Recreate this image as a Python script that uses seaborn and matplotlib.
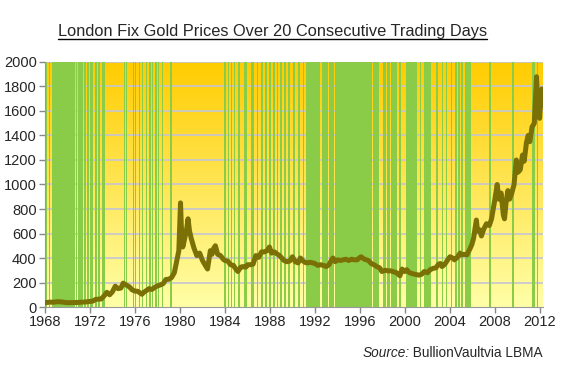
import numpy as np
import matplotlib
matplotlib.use('Agg')
import matplotlib.pyplot as plt
from matplotlib.colors import LinearSegmentedColormap
from matplotlib.lines import Line2D
import seaborn as sns

# London PM fix (decimal year, USD/oz)
dates = [1968.00, 1968.25, 1968.50, 1968.75, 1969.00, 1969.25, 1969.50, 1969.75,
         1970.00, 1970.25, 1970.50, 1970.75, 1971.00, 1971.25, 1971.50, 1971.75,
         1972.00, 1972.25, 1972.50, 1972.75, 1973.00, 1973.25, 1973.50, 1973.75,
         1974.00, 1974.25, 1974.50, 1974.75, 1974.95, 1975.25, 1975.50, 1975.75,
         1976.00, 1976.25, 1976.50, 1976.62, 1976.75, 1977.00, 1977.25, 1977.50,
         1977.75, 1978.00, 1978.25, 1978.50, 1978.75, 1979.00, 1979.25, 1979.50,
         1979.75, 1979.90, 1980.05, 1980.12, 1980.25, 1980.40, 1980.60, 1980.72,
         1980.85, 1981.00, 1981.25, 1981.50, 1981.75, 1982.00, 1982.25, 1982.45,
         1982.70, 1982.85, 1983.00, 1983.15, 1983.35, 1983.60, 1983.85, 1984.00,
         1984.25, 1984.50, 1984.75, 1985.00, 1985.15, 1985.40, 1985.60, 1985.85,
         1986.00, 1986.25, 1986.50, 1986.75, 1987.00, 1987.25, 1987.50, 1987.75,
         1987.95, 1988.15, 1988.40, 1988.60, 1988.85, 1989.00, 1989.25, 1989.50,
         1989.75, 1990.00, 1990.25, 1990.50, 1990.70, 1990.90, 1991.10, 1991.30,
         1991.55, 1991.80, 1992.00, 1992.25, 1992.50, 1992.75, 1993.00, 1993.25,
         1993.45, 1993.60, 1993.80, 1994.00, 1994.25, 1994.50, 1994.75, 1995.00,
         1995.25, 1995.50, 1995.75, 1996.00, 1996.10, 1996.40, 1996.75, 1997.00,
         1997.25, 1997.50, 1997.75, 1997.95, 1998.25, 1998.50, 1998.75, 1999.00,
         1999.25, 1999.55, 1999.75, 1999.85, 2000.00, 2000.15, 2000.40, 2000.75,
         2001.00, 2001.25, 2001.50, 2001.72, 2002.00, 2002.25, 2002.50, 2002.75,
         2003.00, 2003.15, 2003.30, 2003.55, 2003.80, 2004.00, 2004.25, 2004.40,
         2004.65, 2004.90, 2005.00, 2005.25, 2005.50, 2005.75, 2005.95, 2006.10,
         2006.35, 2006.45, 2006.65, 2006.80, 2007.00, 2007.25, 2007.50, 2007.70,
         2007.85, 2008.00, 2008.20, 2008.35, 2008.55, 2008.75, 2008.85, 2009.00,
         2009.15, 2009.30, 2009.50, 2009.70, 2009.90, 2010.05, 2010.25, 2010.45,
         2010.60, 2010.80, 2010.95, 2011.10, 2011.30, 2011.50, 2011.65, 2011.70,
         2011.80, 2011.90, 2011.97, 2012.10, 2012.17, 2012.25]
prices = [35, 38, 40, 39, 42, 43, 41, 38,
          35, 35.5, 35.5, 37, 37.5, 39, 41, 42.5,
          46, 48, 62, 64, 66, 90, 120, 100,
          125, 170, 150, 155, 195, 178, 165, 140,
          130, 128, 112, 104, 118, 133, 150, 143,
          160, 172, 180, 190, 225, 226, 240, 280,
          390, 460, 850, 660, 490, 550, 640, 720,
          620, 560, 480, 420, 440, 380, 340, 310,
          460, 430, 480, 500, 430, 420, 390, 380,
          375, 345, 340, 305, 290, 325, 330, 325,
          345, 345, 350, 420, 405, 450, 450, 460,
          490, 440, 450, 435, 420, 405, 380, 370,
          375, 410, 370, 360, 400, 380, 365, 360,
          365, 360, 355, 340, 345, 340, 330, 345,
          380, 400, 370, 385, 380, 385, 390, 380,
          390, 385, 385, 405, 410, 390, 380, 355,
          345, 330, 320, 290, 300, 295, 295, 287,
          280, 255, 310, 295, 290, 305, 280, 270,
          265, 260, 268, 290, 280, 305, 315, 320,
          350, 355, 330, 350, 385, 410, 400, 385,
          405, 440, 425, 430, 425, 470, 510, 560,
          710, 620, 630, 580, 635, 680, 665, 720,
          800, 880, 1000, 880, 930, 750, 720, 860,
          950, 880, 930, 1000, 1200, 1100, 1120, 1240,
          1190, 1340, 1400, 1350, 1470, 1500, 1780, 1880,
          1650, 1720, 1540, 1740, 1780, 1650]

# green shaded periods (decimal years)
band_starts = [1968.06, 1968.36, 1968.60, 1970.76, 1970.96, 1971.47, 1971.76, 1972.00,
               1972.44, 1972.71, 1973.04, 1975.02, 1975.24, 1975.44, 1975.62, 1975.82,
               1976.00, 1976.15, 1976.38, 1976.60, 1976.95, 1977.24, 1977.54, 1977.78,
               1978.04, 1978.43, 1979.11, 1983.94, 1984.24, 1984.51, 1984.80, 1985.18,
               1985.69, 1986.28, 1986.82, 1987.20, 1987.58, 1987.94, 1988.29, 1988.60,
               1988.89, 1989.24, 1989.63, 1990.07, 1990.52, 1990.91, 1991.20, 1992.60,
               1993.27, 1993.78, 1997.18, 1998.02, 1998.43, 1998.76, 1999.47, 2000.06,
               2001.31, 2001.69, 2002.73, 2003.26, 2003.64, 2004.06, 2004.44, 2004.71,
               2005.00, 2005.31, 2005.54, 2007.47, 2009.54, 2011.32, 2011.71]
band_ends = [1968.15, 1968.47, 1970.67, 1970.87, 1971.40, 1971.64, 1971.88, 1972.29,
             1972.60, 1972.89, 1973.33, 1975.08, 1975.33, 1975.51, 1975.69, 1975.91,
             1976.09, 1976.22, 1976.44, 1976.67, 1977.09, 1977.40, 1977.63, 1977.96,
             1978.13, 1978.52, 1979.29, 1984.06, 1984.36, 1984.62, 1984.92, 1985.33,
             1985.93, 1986.58, 1986.96, 1987.35, 1987.76, 1988.06, 1988.44, 1988.74,
             1989.04, 1989.42, 1989.78, 1990.22, 1990.67, 1991.02, 1992.44, 1993.18,
             1993.69, 1997.04, 1997.69, 1998.28, 1998.64, 1999.26, 1999.67, 2001.04,
             2001.45, 2002.34, 2002.91, 2003.40, 2003.76, 2004.18, 2004.60, 2004.89,
             2005.16, 2005.49, 2005.84, 2007.67, 2009.69, 2011.53, 2011.85]

year_ticks = list(range(1968, 2013, 4))
price_ticks = list(range(0, 2001, 200))

sns.set_style('white')
plt.rcParams['font.family'] = ['Liberation Sans', 'DejaVu Sans']

fig = plt.figure(figsize=(5.65, 3.69), dpi=100)
ax = fig.add_axes([0.0796, 0.168, 0.8814, 0.664])

x_max = 2012.27
# gradient background, gold at the top fading to pale yellow
grad = np.linspace(0, 1, 256).reshape(-1, 1)
cmap = LinearSegmentedColormap.from_list('gold', ['#FFFFA8', '#FFCC00'])
ax.imshow(grad, cmap=cmap, aspect='auto', origin='lower',
          extent=[1968, x_max, 0, 2000], zorder=0)

ax.hlines(price_ticks[1:], 1968, x_max, color='#C4C4D4', lw=1.2, zorder=1)

for s, e in zip(band_starts, band_ends):
    ax.axvspan(s, e, color='#8ACC48', lw=0, zorder=2)

sns.lineplot(x=dates, y=prices, color='#7A7006', lw=3.6, ax=ax, zorder=3)

ax.set_xlim(1968, x_max)
ax.set_ylim(0, 2000)
ax.set_xticks(year_ticks)
ax.set_yticks(price_ticks)
ax.set_xlabel('')
ax.set_ylabel('')
ax.tick_params(axis='both', direction='out', length=4, width=1, color='#888888',
               labelsize=10.5, bottom=True, left=True, pad=2)
for side in ['top', 'right']:
    ax.spines[side].set_visible(False)
for side in ['left', 'bottom']:
    ax.spines[side].set_color('#999999')

title = fig.text(0.483, 0.902, 'London Fix Gold Prices Over 20 Consecutive Trading Days',
                 ha='center', va='baseline', fontsize=11.8)
src = fig.text(0.961, 0.0325, ' BullionVaultvia LBMA', ha='right', va='baseline', fontsize=9.8)

fig.canvas.draw()
r = fig.canvas.get_renderer()
tb = title.get_window_extent(r).transformed(fig.transFigure.inverted())
fig.add_artist(Line2D([tb.x0, tb.x1], [0.893, 0.893], color='black', lw=1))
sb = src.get_window_extent(r).transformed(fig.transFigure.inverted())
fig.text(sb.x0, 0.0325, 'Source:', ha='right', va='baseline', fontsize=9.8, style='italic')

plt.savefig('out.png', dpi=100)
plt.close()
